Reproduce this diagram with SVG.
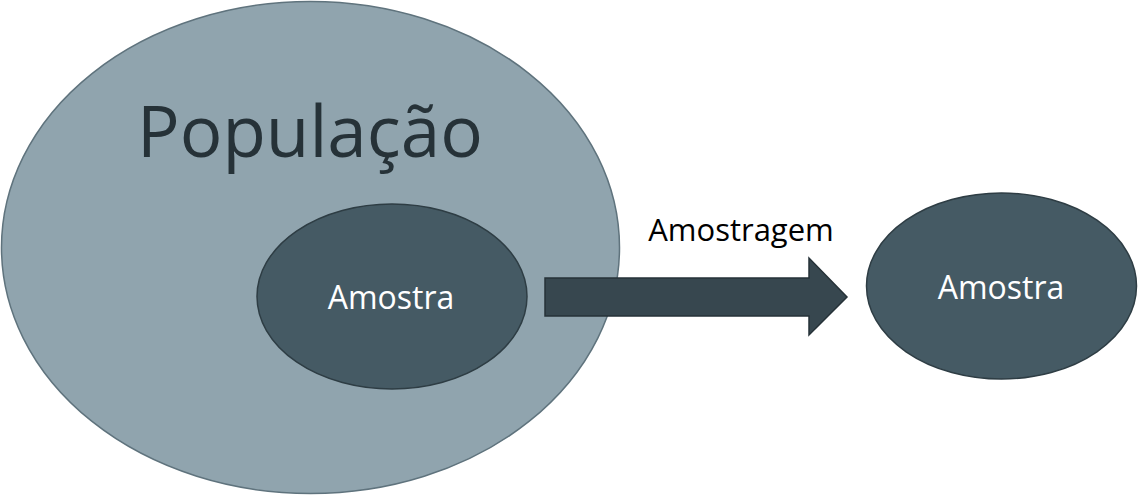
<svg xmlns="http://www.w3.org/2000/svg" width="1138" height="496" viewBox="0 0 1138 496">
<style>
.pop{fill:#90A4AE;stroke:#5F737D;stroke-width:1.5}
.sam{fill:#455A64;stroke:#2E3D44;stroke-width:1.5}
.lbl{font-family:"Open Sans","Liberation Sans",sans-serif;fill:#FFFFFF;font-size:32px;text-anchor:middle}
.big{font-family:"Open Sans","Liberation Sans",sans-serif;fill:#263238;font-size:71px}
.arrowtxt{font-family:"Open Sans","Liberation Sans",sans-serif;fill:#000000;font-size:31px}
.arrow{fill:#37474F;stroke:#263238;stroke-width:1.5}
</style>
<rect width="1138" height="496" fill="#FFFFFF"/>
<g id="populacao">
<ellipse class="pop" cx="310.5" cy="247.5" rx="309" ry="246"/>
<text class="big" x="137" y="157">População</text>
</g>
<g id="amostra-interna">
<ellipse class="sam" cx="392" cy="296.5" rx="135" ry="92.5"/>
<text class="lbl" x="391" y="309">Amostra</text>
</g>
<g id="amostra-externa">
<ellipse class="sam" cx="1001.5" cy="286" rx="135" ry="93"/>
<text class="lbl" x="1001" y="299">Amostra</text>
</g>
<g id="connectors">
<polygon class="arrow" points="545,278 809,278 809,258 847,297 809,335 809,316 545,316"/>
<text class="arrowtxt" x="741" y="241" text-anchor="middle">Amostragem</text>
</g>
</svg>
